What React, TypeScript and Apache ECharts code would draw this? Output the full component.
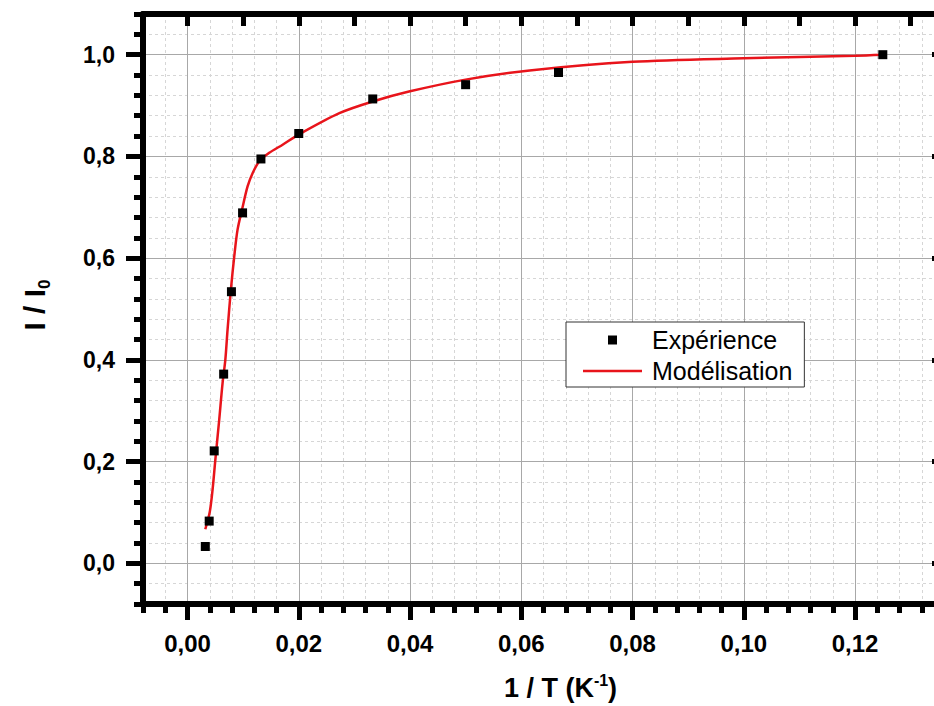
import React, { useEffect, useRef } from "react";
import * as echarts from "echarts";

// Experimental points (1/T in K^-1, I/I0)
const expX = [0.0032, 0.0039, 0.0048, 0.0065, 0.0079, 0.0099, 0.0132, 0.02, 0.0333, 0.05, 0.0667, 0.125];
const expY = [0.033, 0.083, 0.221, 0.372, 0.534, 0.689, 0.795, 0.845, 0.913, 0.941, 0.965, 1.0];

// Model curve
const modelX = [0.0032, 0.004, 0.0045, 0.005, 0.0057, 0.0063, 0.0068, 0.0072, 0.0078, 0.0084, 0.009, 0.0099, 0.0108, 0.0117, 0.0129, 0.0147, 0.0171, 0.02, 0.0273, 0.0333, 0.04, 0.05, 0.0615, 0.08, 0.1, 0.12, 0.125];
const modelY = [0.067, 0.101, 0.144, 0.203, 0.282, 0.354, 0.4, 0.459, 0.538, 0.603, 0.656, 0.7, 0.741, 0.767, 0.79, 0.807, 0.823, 0.843, 0.885, 0.908, 0.928, 0.951, 0.969, 0.986, 0.993, 0.998, 1.0];

// Tick values
const xMajorTicks = [0, 0.02, 0.04, 0.06, 0.08, 0.1, 0.12];
const xTopTicks = [0, 0.01, 0.02, 0.03, 0.04, 0.05, 0.06, 0.07, 0.08, 0.09, 0.1, 0.11, 0.12, 0.13];
const yMajorTicks = [0, 0.2, 0.4, 0.6, 0.8, 1.0];

const X_MIN = -0.008;
const X_MAX = 0.136;
const Y_MIN = -0.08;
const Y_MAX = 1.08;

const FONT = "'Liberation Sans', Arial, sans-serif";
const BLACK = "#000000";
const AXIS_W = 6;
const TICK_W = 5;

export default function App() {
  const ref = useRef<HTMLDivElement>(null);

  useEffect(() => {
    if (!ref.current) return;
    const chart = echarts.init(ref.current, null, { renderer: "svg" });

    const baseX = { type: "value", min: X_MIN, max: X_MAX, gridIndex: 0 };
    const baseY = { type: "value", min: Y_MIN, max: Y_MAX, gridIndex: 0 };

    const option: any = {
      animation: false,
      backgroundColor: "#ffffff",
      textStyle: { fontFamily: FONT },
      grid: { left: 143, top: 14, right: -10, bottom: 102, containLabel: false, outerBoundsMode: "none" },
      xAxis: [
        {
          ...baseX,
          position: "bottom",
          interval: 0.004,
          axisLine: { show: false, onZero: false },
          axisTick: { show: true, length: 9, lineStyle: { color: BLACK, width: TICK_W } },
          axisLabel: { show: false },
          splitLine: { show: true, lineStyle: { color: "#d6d6d6", width: 1, type: [3, 3] } },
        },
        {
          ...baseX,
          position: "bottom",
          axisLine: { show: true, onZero: false, lineStyle: { color: BLACK, width: AXIS_W } },
          axisTick: { show: true, customValues: xMajorTicks, length: 16, lineStyle: { color: BLACK, width: TICK_W } },
          axisLabel: {
            show: true,
            customValues: xMajorTicks,
            formatter: (v: number) => v.toFixed(2).replace(".", ","),
            fontSize: 24,
            fontWeight: "bold",
            color: BLACK,
            fontFamily: FONT,
            margin: 27,
          },
          splitLine: { show: true, lineStyle: { color: "#a8a8a8", width: 1 } },
          name: "{a|1 / T (K}{sup|-1}{a|)}",
          nameLocation: "middle",
          nameGap: 68,
          nameTextStyle: {
            padding: [0, 0, 0, 34],
            rich: {
              a: { fontSize: 27, fontWeight: "bold", color: BLACK, fontFamily: FONT, lineHeight: 32 },
              sup: { fontSize: 16, fontWeight: "bold", color: BLACK, fontFamily: FONT, verticalAlign: "top", lineHeight: 16 },
            },
          },
        },
        {
          ...baseX,
          position: "top",
          axisLine: { show: true, onZero: false, lineStyle: { color: BLACK, width: AXIS_W } },
          axisTick: { show: true, inside: true, customValues: xTopTicks, length: 12, lineStyle: { color: BLACK, width: TICK_W } },
          axisLabel: { show: false },
          splitLine: { show: false },
        },
      ],
      yAxis: [
        {
          ...baseY,
          position: "left",
          interval: 0.04,
          axisLine: { show: false, onZero: false },
          axisTick: { show: true, length: 9, lineStyle: { color: BLACK, width: TICK_W } },
          axisLabel: { show: false },
          splitLine: { show: true, lineStyle: { color: "#d6d6d6", width: 1, type: [3, 3] } },
        },
        {
          ...baseY,
          position: "left",
          axisLine: { show: true, onZero: false, lineStyle: { color: BLACK, width: AXIS_W } },
          axisTick: { show: true, customValues: yMajorTicks, length: 17, lineStyle: { color: BLACK, width: TICK_W } },
          axisLabel: {
            show: true,
            customValues: yMajorTicks,
            formatter: (v: number) => v.toFixed(1).replace(".", ","),
            fontSize: 23,
            fontWeight: "bold",
            color: BLACK,
            fontFamily: FONT,
            margin: 28,
          },
          splitLine: { show: true, lineStyle: { color: "#a8a8a8", width: 1 } },
          name: "{a|I / I}{sub|0}",
          nameLocation: "middle",
          nameRotate: 90,
          nameGap: 90,
          nameTextStyle: {
            padding: [0, 0, 0, 8],
            rich: {
              a: { fontSize: 30, fontWeight: "bold", color: BLACK, fontFamily: FONT, lineHeight: 38 },
              sub: { fontSize: 17, fontWeight: "bold", color: BLACK, fontFamily: FONT, verticalAlign: "bottom", lineHeight: 17 },
            },
          },
        },
        {
          ...baseY,
          position: "right",
          axisLine: { show: true, onZero: false, lineStyle: { color: BLACK, width: AXIS_W } },
          axisTick: { show: true, inside: true, customValues: yMajorTicks, length: 12, lineStyle: { color: BLACK, width: TICK_W } },
          axisLabel: { show: false },
          splitLine: { show: false },
        },
      ],
      legend: {
        orient: "vertical",
        left: 566,
        top: 322,
        padding: [4, 12, 2, 17],
        itemGap: 3,
        itemWidth: 59,
        itemHeight: 9,
        borderColor: "#333",
        borderWidth: 1,
        borderRadius: 0,
        backgroundColor: "#ffffff",
        textStyle: { fontSize: 25, color: BLACK, fontFamily: FONT, lineHeight: 28, padding: [0, 0, 0, 5] },
        data: [
          { name: "Expérience", icon: "path://M0,0H10V10H0Z", itemStyle: { color: BLACK, opacity: 1 } },
          { name: "Modélisation", icon: "path://M0,0H59V2.5H0Z", itemStyle: { color: "#e8141b", opacity: 1 } },
        ],
      },
      series: [
        {
          name: "Modélisation",
          type: "line",
          xAxisIndex: 1,
          yAxisIndex: 1,
          data: modelX.map((x, i) => [x, modelY[i]]),
          smooth: 0.3,
          showSymbol: false,
          symbol: "none",
          lineStyle: { color: "#e8141b", width: 2.5 },
          itemStyle: { color: "#e8141b" },
          z: 3,
        },
        {
          name: "Expérience",
          type: "scatter",
          xAxisIndex: 1,
          yAxisIndex: 1,
          data: expX.map((x, i) => [x, expY[i]]),
          symbol: "rect",
          symbolSize: 9,
          itemStyle: { color: BLACK, opacity: 1 },
          z: 4,
        },
      ],
    };

    chart.setOption(option);
    return () => chart.dispose();
  }, []);

  return (
    <div
      ref={ref}
      style={{ position: "absolute", left: 0, top: 0, width: 934, height: 706, background: "#fff" }}
    />
  );
}
